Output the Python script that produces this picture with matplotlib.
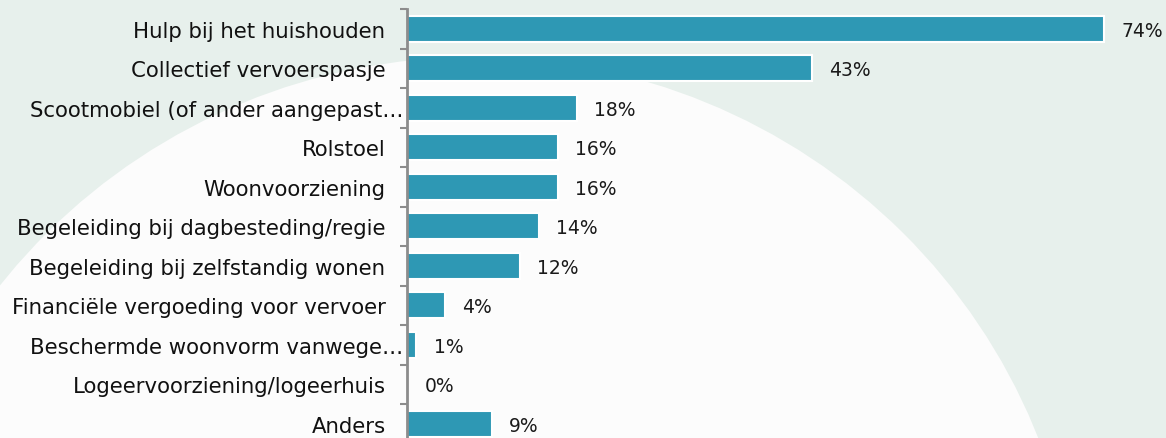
import matplotlib.pyplot as plt
from matplotlib.patches import Ellipse
import numpy as np

categories = [
    "Hulp bij het huishouden",
    "Collectief vervoerspasje",
    "Scootmobiel (of ander aangepast…",
    "Rolstoel",
    "Woonvoorziening",
    "Begeleiding bij dagbesteding/regie",
    "Begeleiding bij zelfstandig wonen",
    "Financiële vergoeding voor vervoer",
    "Beschermde woonvorm vanwege…",
    "Logeervoorziening/logeerhuis",
    "Anders",
]
values = [74, 43, 18, 16, 16, 14, 12, 4, 1, 0, 9]
value_labels = ["74%", "43%", "18%", "16%", "16%", "14%", "12%", "4%", "1%", "0%", "9%"]

BAR_COLOR = "#2e98b4"
BG_COLOR = "#e7f0ec"
W, H = 1166, 439

fig = plt.figure(figsize=(W / 100, H / 100), dpi=100, facecolor=BG_COLOR)

# decorative background: large white ellipse, pixel coordinates
bg = fig.add_axes([0, 0, 1, 1])
bg.set_xlim(0, W)
bg.set_ylim(H, 0)
bg.axis("off")
bg.add_patch(Ellipse((475, 658), 2 * 605, 2 * 600, facecolor="#fcfcfc", edgecolor="none"))

left = 407 / W
top = 1 - 10 / H
bottom = 1 - 444.5 / H
ax = fig.add_axes([left, bottom, 1 - left, top - bottom])
ax.patch.set_alpha(0)

y = np.arange(len(categories))
ax.barh(y, values, height=0.66, color=BAR_COLOR, edgecolor="white", linewidth=1.5)
ax.set_xlim(0, (W - 407) / 9.42)
ax.set_ylim(len(categories) - 0.5, -0.5)

for yi, v, lab in zip(y, values, value_labels):
    ax.annotate(lab, (v, yi), xytext=(12.5, -1), textcoords="offset points",
                va="center", ha="left", fontsize=13.5, color="#1a1a1a")

ax.set_yticks(y)
ax.set_yticklabels(categories, fontsize=15.3, color="#111111")
ax.tick_params(axis="y", which="major", length=0, pad=15.5)
ax.set_yticks(np.arange(-0.5, len(categories), 1), minor=True)
ax.tick_params(axis="y", which="minor", length=5, width=1.5, color="#8c8c8c", direction="out")
for i, lab in enumerate(categories):
    if lab.endswith("…"):
        ax.yaxis.get_major_ticks()[i].set_pad(2.5)

ax.set_xticks([])
for side in ["top", "right", "bottom"]:
    ax.spines[side].set_visible(False)
ax.spines["left"].set_color("#8c8c8c")
ax.spines["left"].set_linewidth(2)

fig.savefig("out.png", dpi=100, facecolor=BG_COLOR)
